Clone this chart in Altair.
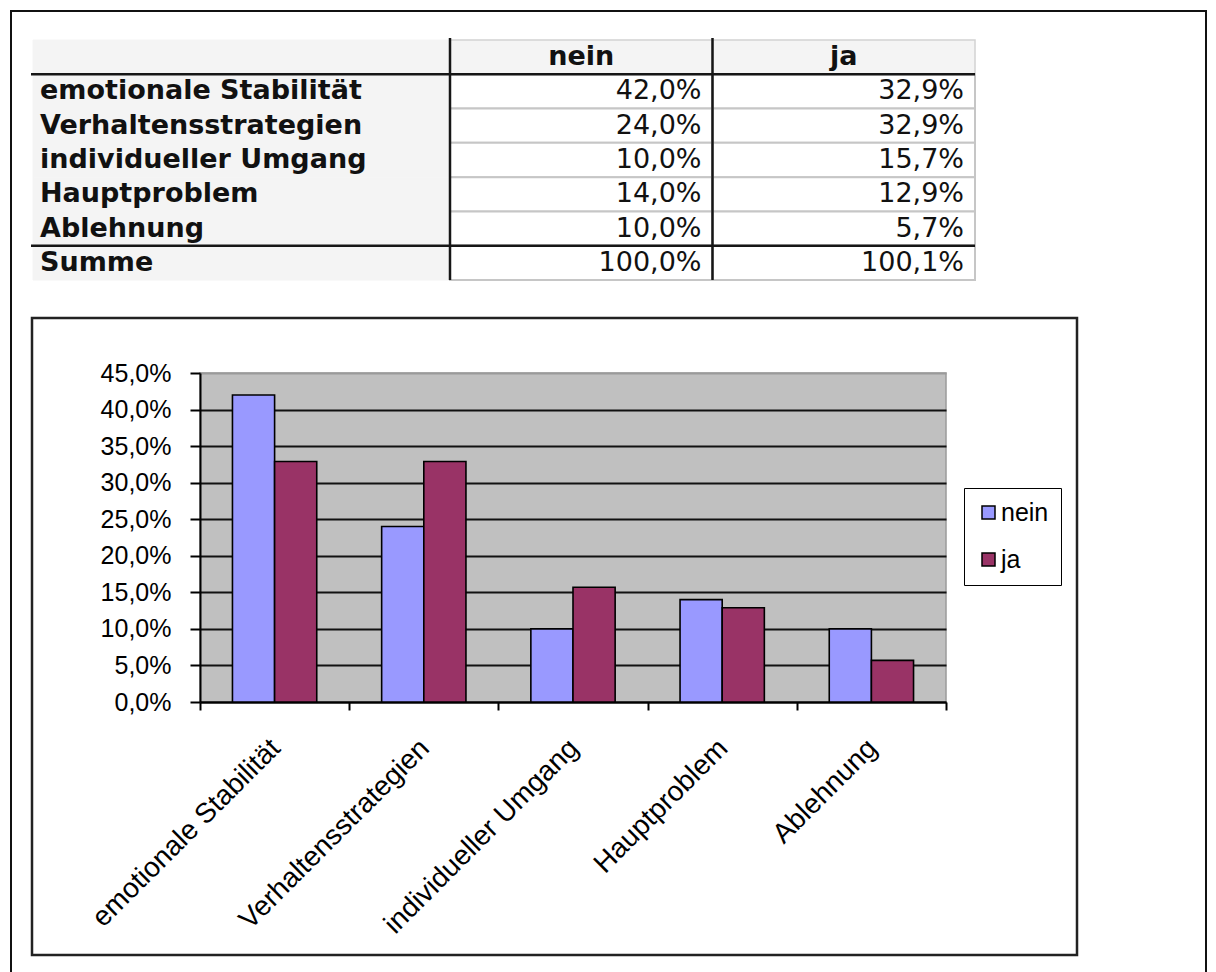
import altair as alt
import pandas as pd

# ---- data -----------------------------------------------------------------
kategorien = [
    "emotionale Stabilität",
    "Verhaltensstrategien",
    "individueller Umgang",
    "Hauptproblem",
    "Ablehnung",
]
antworten = ["nein", "ja"]
nein = [42.0, 24.0, 10.0, 14.0, 10.0]
ja = [32.9, 32.9, 15.7, 12.9, 5.7]
summe_label = "Summe"
y_ticks = [0, 5, 10, 15, 20, 25, 30, 35, 40, 45]
farben = ["#9999FF", "#993366"]

werte = {"nein": nein, "ja": ja}

# ---- layout (pixels, relative to the origin of the bar plot) ---------------
W, H = 746, 329
PAD = {"left": 200, "top": 373, "right": 270, "bottom": 270}
ZEILEN_RANGE = [-333, -93]      # table rows
SPALTEN_RANGE = [250, 775]      # value columns of the table
LABEL_X0 = -167                 # left edge of the label column
FONT_CHART = "Liberation Sans"
FONT_TABLE = "DejaVu Sans"
TABLE_SIZE = 27


def de_prozent(v):
    return f"{v:.1f}".replace(".", ",") + "%"


bar_df = pd.DataFrame(
    [
        {"Kategorie": k, "Antwort": a, "Anteil": werte[a][i] / 100}
        for a in antworten
        for i, k in enumerate(kategorien)
    ]
)

kopf = "Kopfzeile"
zeilen = [kopf] + kategorien + [summe_label]
summen = {a: round(sum(werte[a]), 1) for a in antworten}

zellen = []
for i, k in enumerate(kategorien + [summe_label]):
    for a in antworten:
        v = summen[a] if k == summe_label else werte[a][i]
        zellen.append({"Zeile": k, "Spalte": a, "Text": de_prozent(v)})
zellen_df = pd.DataFrame(zellen)
kopf_df = pd.DataFrame({"Zeile": [kopf, kopf], "Spalte": antworten, "Text": antworten})
label_df = pd.DataFrame({"Zeile": zeilen, "Text": [""] + kategorien + [summe_label]})
dick_h_df = pd.DataFrame({"Zeile": [kategorien[0], summe_label]})
eins = pd.DataFrame({"i": [0]})

zeilen_scale = alt.Scale(domain=zeilen, range=ZEILEN_RANGE, paddingInner=0, paddingOuter=0)
spalten_scale = alt.Scale(domain=antworten, range=SPALTEN_RANGE, paddingInner=0, paddingOuter=0)
halbe_spalte = (SPALTEN_RANGE[1] - SPALTEN_RANGE[0]) / len(antworten) / 2


def y_zeile():
    return alt.Y("Zeile:N", scale=zeilen_scale, axis=None)


def x_spalte(**kw):
    return alt.X("Spalte:N", scale=spalten_scale, axis=None, **kw)


# ---- page borders -----------------------------------------------------------
aussen = alt.Chart(eins).mark_rect(fillOpacity=0, stroke="#111", strokeWidth=2).encode(
    x=alt.value(-189), x2=alt.value(1006), y=alt.value(-362), y2=alt.value(700)
)
rahmen = alt.Chart(eins).mark_rect(fillOpacity=0, stroke="#222", strokeWidth=2.5).encode(
    x=alt.value(-168), x2=alt.value(877), y=alt.value(-55), y2=alt.value(582)
)

# ---- table ------------------------------------------------------------------
label_bg = alt.Chart(label_df).mark_rect(fill="#f4f4f4", stroke="#f4f4f4", strokeWidth=1).encode(
    y=y_zeile(), x=alt.value(LABEL_X0), x2=alt.value(SPALTEN_RANGE[0])
)
kopf_bg = alt.Chart(kopf_df).mark_rect(fill="#f4f4f4", stroke="#d2d2d2", strokeWidth=1.5).encode(
    x=x_spalte(), y=y_zeile()
)
zellen_bg = alt.Chart(zellen_df).mark_rect(fill="white", stroke="#c6c6c6", strokeWidth=2).encode(
    x=x_spalte(), y=y_zeile()
)
label_txt = alt.Chart(label_df).mark_text(
    align="left", baseline="middle", font=FONT_TABLE, fontWeight="bold",
    fontSize=TABLE_SIZE, color="#111",
).encode(y=y_zeile(), x=alt.value(LABEL_X0 + 7), text="Text:N")
kopf_txt = alt.Chart(kopf_df).mark_text(
    align="center", baseline="middle", font=FONT_TABLE, fontWeight="bold",
    fontSize=TABLE_SIZE, color="#111",
).encode(x=x_spalte(), y=y_zeile(), text="Text:N")
zellen_txt = alt.Chart(zellen_df).mark_text(
    align="right", baseline="middle", font=FONT_TABLE, fontSize=TABLE_SIZE,
    color="#111", dx=halbe_spalte - 11,
).encode(x=x_spalte(), y=y_zeile(), text="Text:N")
dick_v = alt.Chart(kopf_df).mark_rule(color="#161616", strokeWidth=2.5).encode(
    x=x_spalte(bandPosition=0),
    y=alt.value(ZEILEN_RANGE[0] - 2),
    y2=alt.value(ZEILEN_RANGE[1]),
)
dick_h = alt.Chart(dick_h_df).mark_rule(color="#161616", strokeWidth=2.5).encode(
    y=alt.Y("Zeile:N", scale=zeilen_scale, axis=None, bandPosition=0),
    x=alt.value(LABEL_X0 - 2),
    x2=alt.value(SPALTEN_RANGE[1]),
)

# ---- bar chart --------------------------------------------------------------
balken = alt.Chart(bar_df).mark_bar(stroke="black", strokeWidth=1.6).encode(
    x=alt.X(
        "Kategorie:N",
        sort=kategorien,
        scale=alt.Scale(paddingInner=0, paddingOuter=0),
        axis=alt.Axis(
            title=None,
            labelAngle=-45,
            labelFont=FONT_CHART,
            labelFontSize=28,
            labelColor="black",
            labelLimit=500,
            labelPadding=24,
            labelOffset=-9,
            tickBand="extent",
            tickSize=8,
            tickWidth=2,
            tickColor="black",
            domainColor="black",
            domainWidth=2,
            grid=False,
        ),
    ),
    xOffset=alt.XOffset(
        "Antwort:N", sort=antworten, scale=alt.Scale(paddingInner=0, paddingOuter=0.77)
    ),
    y=alt.Y(
        "Anteil:Q",
        scale=alt.Scale(domain=[0, 0.45], nice=False, zero=True),
        axis=alt.Axis(
            title=None,
            values=[t / 100 for t in y_ticks],
            labelExpr="replace(format(datum.value, '.1%'), '.', ',')",
            labelFont=FONT_CHART,
            labelFontSize=25,
            labelColor="black",
            labelPadding=19,
            tickSize=10,
            tickWidth=2,
            tickColor="black",
            domainColor="black",
            domainWidth=2,
            grid=True,
            gridWidth=2,
            gridColor={
                "condition": {"test": "datum.value > 0.44", "value": "#9a9a9a"},
                "value": "#111111",
            },
        ),
    ),
    color=alt.Color(
        "Antwort:N",
        sort=antworten,
        scale=alt.Scale(domain=antworten, range=farben),
        legend=alt.Legend(
            title=None,
            orient="none",
            legendX=764,
            legendY=115,
            direction="vertical",
            symbolType="square",
            symbolSize=169,
            symbolStrokeColor="black",
            symbolStrokeWidth=1.5,
            labelFont=FONT_CHART,
            labelFontSize=25,
            labelColor="black",
            labelOffset=0,
            rowPadding=21,
            padding=12,
            strokeColor="black",
            fillColor="white",
        ),
    ),
)

chart = (
    alt.layer(
        aussen,
        rahmen,
        label_bg,
        kopf_bg,
        zellen_bg,
        label_txt,
        kopf_txt,
        zellen_txt,
        dick_v,
        dick_h,
        balken,
    )
    .resolve_scale(x="independent", y="independent")
    .properties(
        width=W,
        height=H,
        padding=PAD,
        autosize=alt.AutoSizeParams(type="none"),
        background="white",
    )
    .configure_view(fill="#c0c0c0", stroke="#9a9a9a", strokeWidth=1.5)
)

chart.save("out.html", embed_options={"renderer": "svg", "actions": False})
